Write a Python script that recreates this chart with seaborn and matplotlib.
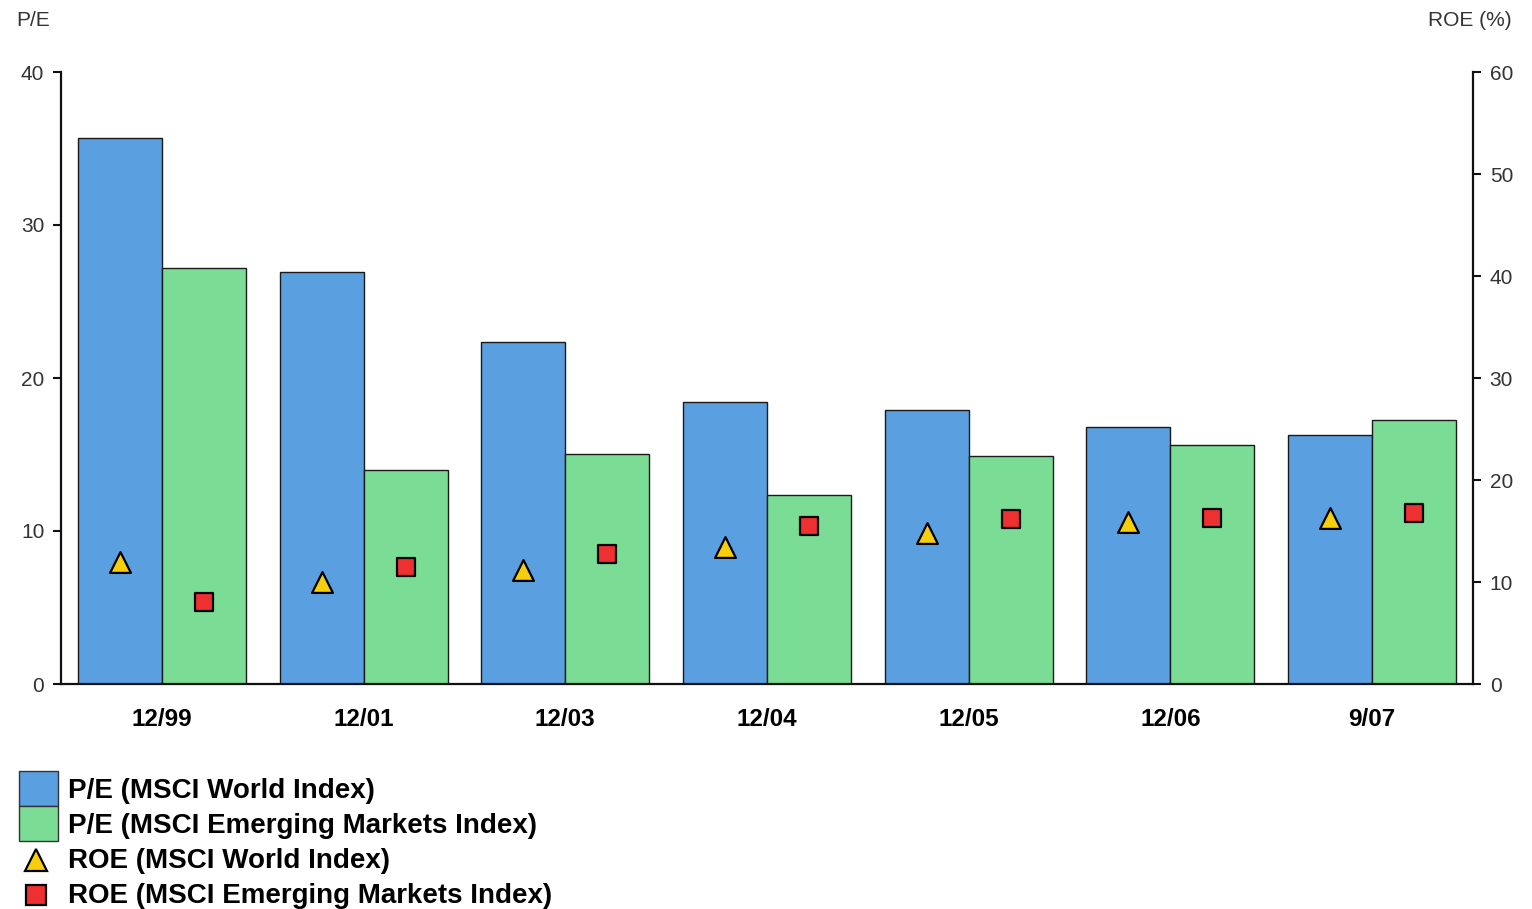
import numpy as np
import pandas as pd
import seaborn as sns
import matplotlib.pyplot as plt
from matplotlib.patches import Patch
from matplotlib.lines import Line2D
from matplotlib.legend_handler import HandlerLine2D

# Data
dates = ["12/99", "12/01", "12/03", "12/04", "12/05", "12/06", "9/07"]
pe_world = [35.7, 26.9, 22.35, 18.4, 17.9, 16.8, 16.25]
pe_em = [27.2, 14.0, 15.05, 12.33, 14.9, 15.6, 17.27]
roe_world = [12.0, 10.0, 11.2, 13.4, 14.8, 15.9, 16.3]
roe_em = [8.0, 11.5, 12.7, 15.45, 16.2, 16.25, 16.8]

series_names = ["P/E (MSCI World Index)", "P/E (MSCI Emerging Markets Index)",
                "ROE (MSCI World Index)", "ROE (MSCI Emerging Markets Index)"]

BLUE = "#5A9FDF"
GREEN = "#7BDD95"
YELLOW = "#F7CE0A"
RED = "#EE3030"

sns.set_theme(style="white")
plt.rcParams["font.family"] = ["Liberation Sans", "DejaVu Sans"]

df = pd.DataFrame({
    "date": dates * 2,
    "pe": pe_world + pe_em,
    "series": [series_names[0]] * len(dates) + [series_names[1]] * len(dates),
})

fig = plt.figure(figsize=(15.32, 9.09), dpi=100)
ax = fig.add_axes([61 / 1532, 1 - 684 / 909, (1473 - 61) / 1532, (684 - 72) / 909])

group_width = 0.833
sns.barplot(data=df, x="date", y="pe", hue="series", order=dates,
            hue_order=series_names[:2], palette=[BLUE, GREEN], saturation=1,
            width=group_width, edgecolor="#1a1a1a", linewidth=1.0,
            legend=False, ax=ax)

ax.set_xlim(-0.5, len(dates) - 0.5)
ax.set_ylim(0, 40)
ax.set_yticks([0, 10, 20, 30, 40])
ax.set_xlabel("")
ax.set_ylabel("")

# Category boundaries carry the tick marks, labels sit at the centres
ax.set_xticks(np.arange(-0.5, len(dates), 1.0))
ax.set_xticklabels([])
ax.set_xticks(np.arange(len(dates)), minor=True)
ax.set_xticklabels(dates, minor=True, fontsize=17.5, fontweight="bold", color="black")
ax.tick_params(axis="x", which="minor", length=0, pad=17)
ax.tick_params(axis="x", which="major", length=6, width=1.5, color="#111", direction="out")
ax.tick_params(axis="y", length=6, width=1.5, color="#111", direction="out",
               labelsize=15, labelcolor="#333", left=True, pad=6)

for s in ["top", "right"]:
    ax.spines[s].set_visible(False)
for s in ["left", "bottom"]:
    ax.spines[s].set_linewidth(1.6)
    ax.spines[s].set_color("#111")

# ROE markers on the secondary axis, centred on each bar
ax2 = ax.twinx()
offset = group_width / 4
x_idx = np.arange(len(dates))
sns.scatterplot(x=x_idx - offset, y=roe_world, marker="^", s=15 ** 2,
                color=YELLOW, edgecolor="black", linewidth=1.6, ax=ax2, zorder=5)
sns.scatterplot(x=x_idx + offset, y=roe_em, marker="s", s=13 ** 2,
                color=RED, edgecolor="black", linewidth=1.6, ax=ax2, zorder=5)
ax2.set_ylim(0, 60)
ax2.set_yticks([0, 10, 20, 30, 40, 50, 60])
ax2.set_xlim(-0.5, len(dates) - 0.5)
ax2.set_ylabel("")
ax2.tick_params(axis="y", length=6, width=1.5, color="#111", direction="out",
                labelsize=15, labelcolor="#333", right=True, pad=6)
for s in ["top", "left", "bottom"]:
    ax2.spines[s].set_visible(False)
ax2.spines["right"].set_linewidth(1.6)
ax2.spines["right"].set_color("#111")

fig.text(16 / 1532, 1 - 20 / 909, "P/E", fontsize=15, color="#333", va="center", ha="left")
fig.text(1512 / 1532, 1 - 20 / 909, "ROE (%)", fontsize=15, color="#333", va="center", ha="right")


class CenteredMarkerHandler(HandlerLine2D):
    """Marker handle lowered so it lines up with the label's text."""

    def create_artists(self, legend, orig_handle, xdescent, ydescent,
                       width, height, fontsize, trans):
        artists = super().create_artists(legend, orig_handle, xdescent, ydescent,
                                         width, height, fontsize, trans)
        for a in artists:
            a.set_ydata(np.asarray(a.get_ydata(), dtype=float) - 4.0)
            a.set_xdata(np.asarray(a.get_xdata(), dtype=float) - 1.5)
        return artists


tri_handle = Line2D([], [], ls="", marker="^", markersize=16, markerfacecolor=YELLOW,
                    markeredgecolor="black", markeredgewidth=1.6)
sq_handle = Line2D([], [], ls="", marker="s", markersize=14.5, markerfacecolor=RED,
                   markeredgecolor="black", markeredgewidth=1.6)
handles = [
    Patch(facecolor=BLUE, edgecolor="#333", linewidth=1.0),
    Patch(facecolor=GREEN, edgecolor="#333", linewidth=1.0),
    tri_handle,
    sq_handle,
]
leg = fig.legend(handles, series_names, loc="upper left",
                 bbox_to_anchor=(19 / 1532, 1 - 771 / 909), frameon=False,
                 borderpad=0, borderaxespad=0, handlelength=1.4, handleheight=1.56,
                 handletextpad=0.36, labelspacing=0.0,
                 prop={"size": 20, "weight": "bold"},
                 handler_map={tri_handle: CenteredMarkerHandler(),
                              sq_handle: CenteredMarkerHandler()})
for t in leg.get_texts():
    t.set_color("black")

fig.savefig("out.png", dpi=100)
